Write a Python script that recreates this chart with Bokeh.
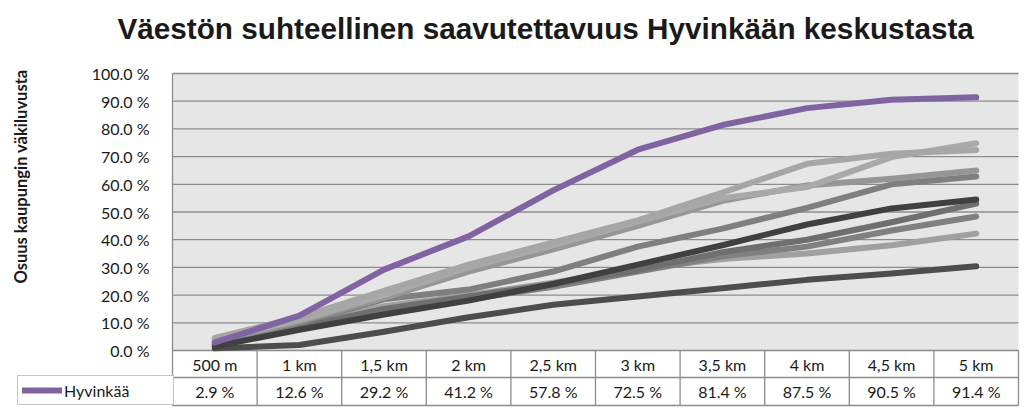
import math
from bokeh.plotting import figure
from bokeh.models import (Range1d, FixedTicker, PrintfTickFormatter, BoxAnnotation,
                          Legend, LegendItem, LinearAxis, Label)
from bokeh.core.properties import value
from bokeh.embed import file_html
from bokeh.resources import INLINE

# ---- data ----
categories = ["500 m", "1 km", "1,5 km", "2 km", "2,5 km", "3 km", "3,5 km", "4 km", "4,5 km", "5 km"]
hyvinkaa = [2.9, 12.6, 29.2, 41.2, 57.8, 72.5, 81.4, 87.5, 90.5, 91.4]

vertailu_1 = [4.5, 12.0, 21.5, 31.0, 39.0, 47.0, 57.0, 67.4, 71.0, 72.4]
vertailu_2 = [4.0, 11.0, 20.0, 30.0, 38.0, 46.5, 55.0, 59.0, 69.8, 74.8]
vertailu_3 = [3.5, 10.5, 19.0, 28.5, 36.5, 45.0, 54.0, 59.6, 62.0, 65.0]
vertailu_4 = [3.0, 10.0, 18.5, 22.0, 28.5, 37.5, 44.0, 51.5, 60.0, 62.8]
vertailu_5 = [1.5, 7.5, 13.0, 18.0, 24.0, 31.0, 38.0, 45.5, 51.3, 54.5]
vertailu_6 = [2.0, 8.5, 15.0, 19.5, 24.0, 29.0, 35.5, 40.0, 46.3, 53.0]
vertailu_7 = [2.0, 8.0, 14.0, 18.5, 23.0, 28.5, 34.0, 37.5, 43.3, 48.4]
vertailu_8 = [2.5, 9.0, 16.0, 20.0, 24.5, 29.5, 33.0, 35.0, 38.0, 42.2]
vertailu_9 = [0.8, 2.0, 6.8, 12.0, 16.5, 19.5, 22.5, 25.5, 27.8, 30.4]

y_ticks = [0, 10, 20, 30, 40, 50, 60, 70, 80, 90, 100]

title_text = "Väestön suhteellinen saavutettavuus Hyvinkään keskustasta"
y_label_text = "Osuus kaupungin väkiluvusta"
legend_text = "Hyvinkää"

# ---- styles / layout (pixels) ----
GRID = "#8c8c8c"
TXT = "#1a1a1a"
FONT = "Lato"
PURPLE = "#8064a2"
gray_series = [
    (vertailu_9, "#4d4d4d"),
    (vertailu_8, "#a0a0a0"),
    (vertailu_7, "#808080"),
    (vertailu_6, "#6f6f6f"),
    (vertailu_4, "#7f7f7f"),
    (vertailu_3, "#969696"),
    (vertailu_5, "#404040"),
    (vertailu_2, "#a9a9a9"),
    (vertailu_1, "#a6a6a6"),
]

W, H = 1024, 415
FRAME_L, FRAME_R, FRAME_T, FRAME_B = 10, 1020, 0, 407
PLOT_L, PLOT_R = 172, 1018          # plot area left/right
Y100, Y0 = 73, 350                  # pixel rows of 100 % and 0 %
ROW1_PX, ROW2_PX = 377, 405         # table row bottoms
TABLE_L = 17
TITLE_X, TITLE_BASE = 117, 28
YLAB_X, YLAB_Y = 20, 176

n = len(categories)
xs = list(range(n))
cell_px = (PLOT_R - PLOT_L) / n
PX = (Y0 - Y100) / 100.0

x_start = -0.5 - (PLOT_L - FRAME_L) / cell_px
x_end = n - 0.5 + (FRAME_R - PLOT_R) / cell_px
y_start = -(FRAME_B - Y0) / PX
y_end = 100 + (Y100 - FRAME_T) / PX
row1 = -(ROW1_PX - Y0) / PX
row2 = -(ROW2_PX - Y0) / PX

p = figure(width=W, height=H, output_backend="svg", toolbar_location=None,
           x_range=Range1d(x_start, x_end), y_range=Range1d(y_start, y_end),
           x_axis_location=None, y_axis_location=None,
           min_border_left=FRAME_L, min_border_right=W - FRAME_R,
           min_border_top=FRAME_T, min_border_bottom=H - FRAME_B)
p.outline_line_color = None
p.background_fill_color = "white"
p.border_fill_color = "white"
p.xgrid.visible = False
p.ygrid.visible = False

# plot-area background
p.add_layout(BoxAnnotation(left=-0.5, right=n - 0.5, bottom=0, top=100,
                           fill_color="#e6e6e6", fill_alpha=1, line_color=None, level="image"))
# horizontal grid lines at the ticks
p.segment(x0=[-0.5] * len(y_ticks), x1=[n - 0.5] * len(y_ticks), y0=y_ticks, y1=y_ticks,
          line_color=GRID, line_width=1.3)

# y axis at the left edge of the plot area
ax = LinearAxis(fixed_location=-0.5, bounds=(row2, 100))
ax.ticker = FixedTicker(ticks=y_ticks)
ax.formatter = PrintfTickFormatter(format="%.1f %%")
ax.axis_line_color = GRID
ax.axis_line_width = 1.3
ax.major_tick_line_color = None
ax.minor_tick_line_color = None
ax.major_label_standoff = 17
ax.major_label_text_font = FONT
ax.major_label_text_font_size = "16px"
ax.major_label_text_color = TXT
p.add_layout(ax, "left")

# series
for vals, col in gray_series:
    p.line(xs, vals, line_color=col, line_width=6, line_cap="round", line_join="round")
pr = p.line(xs, hyvinkaa, line_color=PURPLE, line_width=6, line_cap="round", line_join="round")

# ---- data table ----
bounds = [x + 0.5 for x in xs]
p.segment(x0=bounds, y0=[row2] * n, x1=bounds, y1=[0] * n, line_color=GRID, line_width=1.3)
p.segment(x0=[-0.5, -0.5], y0=[row1, row2], x1=[n - 0.5, n - 0.5], y1=[row1, row2],
          line_color=GRID, line_width=1.3)
p.text(x=xs, y=[row1 / 2] * n, text=categories, text_align="center",
       text_baseline="middle", text_font=value(FONT), text_font_size="16px", text_color=TXT)
p.text(x=xs, y=[(row1 + row2) / 2] * n, text=[f"{v:.1f} %" for v in hyvinkaa],
       text_align="center", text_baseline="middle",
       text_font=value(FONT), text_font_size="16px", text_color=TXT)

legend = Legend(items=[LegendItem(label=value(legend_text), renderers=[pr])],
                location=(TABLE_L - FRAME_L, FRAME_B - ROW2_PX), margin=0, padding=4, spacing=0,
                glyph_width=40, glyph_height=20, label_width=PLOT_L - TABLE_L - 50,
                label_height=20, label_standoff=2,
                border_line_color=GRID, border_line_width=1.3,
                background_fill_color="white", background_fill_alpha=1,
                label_text_font=FONT, label_text_font_size="16px", label_text_color=TXT)
p.add_layout(legend)

# titles
p.add_layout(Label(x=TITLE_X - FRAME_L, y=FRAME_B - TITLE_BASE, x_units="screen", y_units="screen",
                   text=title_text, text_align="left", text_baseline="alphabetic",
                   text_font="Liberation Sans", text_font_style="bold",
                   text_font_size="29.7px", text_color=TXT))
p.add_layout(Label(x=YLAB_X - FRAME_L, y=FRAME_B - YLAB_Y, x_units="screen", y_units="screen",
                   text=y_label_text, angle=math.pi / 2, text_align="center",
                   text_baseline="middle", text_font=FONT, text_font_style="bold",
                   text_font_size="16.5px", text_color=TXT))

open("out.html", "w").write(file_html(p, INLINE))
